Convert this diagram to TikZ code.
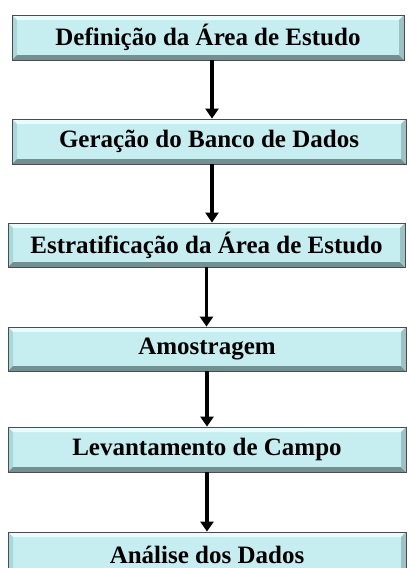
\documentclass[tikz,border=0pt]{standalone}
\usepackage{fontspec}
\setmainfont{Liberation Serif}
\usetikzlibrary{arrows.meta}
\definecolor{etpbg}{HTML}{C6EEF1}
\definecolor{etplt}{HTML}{E9FBFC}
\definecolor{etplf}{HTML}{A9D8DB}
\definecolor{etprt}{HTML}{9CC2C4}
\definecolor{etpdk}{HTML}{738F91}
\tikzset{etpp/.style={
  x=1pt,
  y=-1pt
}}
\tikzset{etp/.style={
  draw=black!70,
  fill=etpbg,
  line width=0.8pt,
  inner sep=0pt,
  minimum height=45pt,
  font=\fontsize{25}{25}\selectfont\bfseries,
  path picture={
    \fill[etplt] (path picture bounding box.north west)
      -- (path picture bounding box.north east)
      -- ([xshift=-5pt,yshift=-5pt]path picture bounding box.north east)
      -- ([xshift=5pt,yshift=-5pt]path picture bounding box.north west) -- cycle;
    \fill[etplf] (path picture bounding box.north west)
      -- ([xshift=5pt,yshift=-5pt]path picture bounding box.north west)
      -- ([xshift=5pt,yshift=5pt]path picture bounding box.south west)
      -- (path picture bounding box.south west) -- cycle;
    \fill[etpdk] (path picture bounding box.south west)
      -- ([xshift=5pt,yshift=5pt]path picture bounding box.south west)
      -- ([xshift=-5pt,yshift=5pt]path picture bounding box.south east)
      -- (path picture bounding box.south east) -- cycle;
    \fill[etprt] (path picture bounding box.north east)
      -- (path picture bounding box.south east)
      -- ([xshift=-5pt,yshift=5pt]path picture bounding box.south east)
      -- ([xshift=-5pt,yshift=-5pt]path picture bounding box.north east) -- cycle;
  }
}}
\tikzset{seta/.style={
  line width=3.6pt,
  -{Triangle[width=13pt,length=10pt]}
}}

\begin{document}
\begin{tikzpicture}[etpp]

    \useasboundingbox (0,0) rectangle (407,568);

    %% Etapas

    \node[etp,minimum width=392pt] (def) at (208,37.5) {Definição da Área de Estudo};
    \node[etp,minimum width=394pt] (ger) at (209,141.5) {Geração do Banco de Dados};
    \node[etp,minimum width=397pt,minimum height=44pt] (est) at (206.5,245) {Estratificação da Área de Estudo};
    \node[etp,minimum width=398pt,minimum height=44pt] (amo) at (207,349) {Amostragem};
    \node[etp,minimum width=398pt] (lev) at (207,449.5) {Levantamento de Campo};
    \node[etp,minimum width=398pt] (ana) at (207,554.5) {Análise dos Dados};

    %% Setas

    \draw[seta] ([xshift=4pt]def.south) -- ([xshift=3pt]ger.north);
    \draw[seta] ([xshift=3pt]ger.south) -- ([xshift=3pt]ger.south |- est.north);
    \foreach \a/\b in {est/amo,amo/lev,lev/ana}
      \draw[seta] (\a.south) -- (\a.south |- \b.north);

\end{tikzpicture}
\end{document}
